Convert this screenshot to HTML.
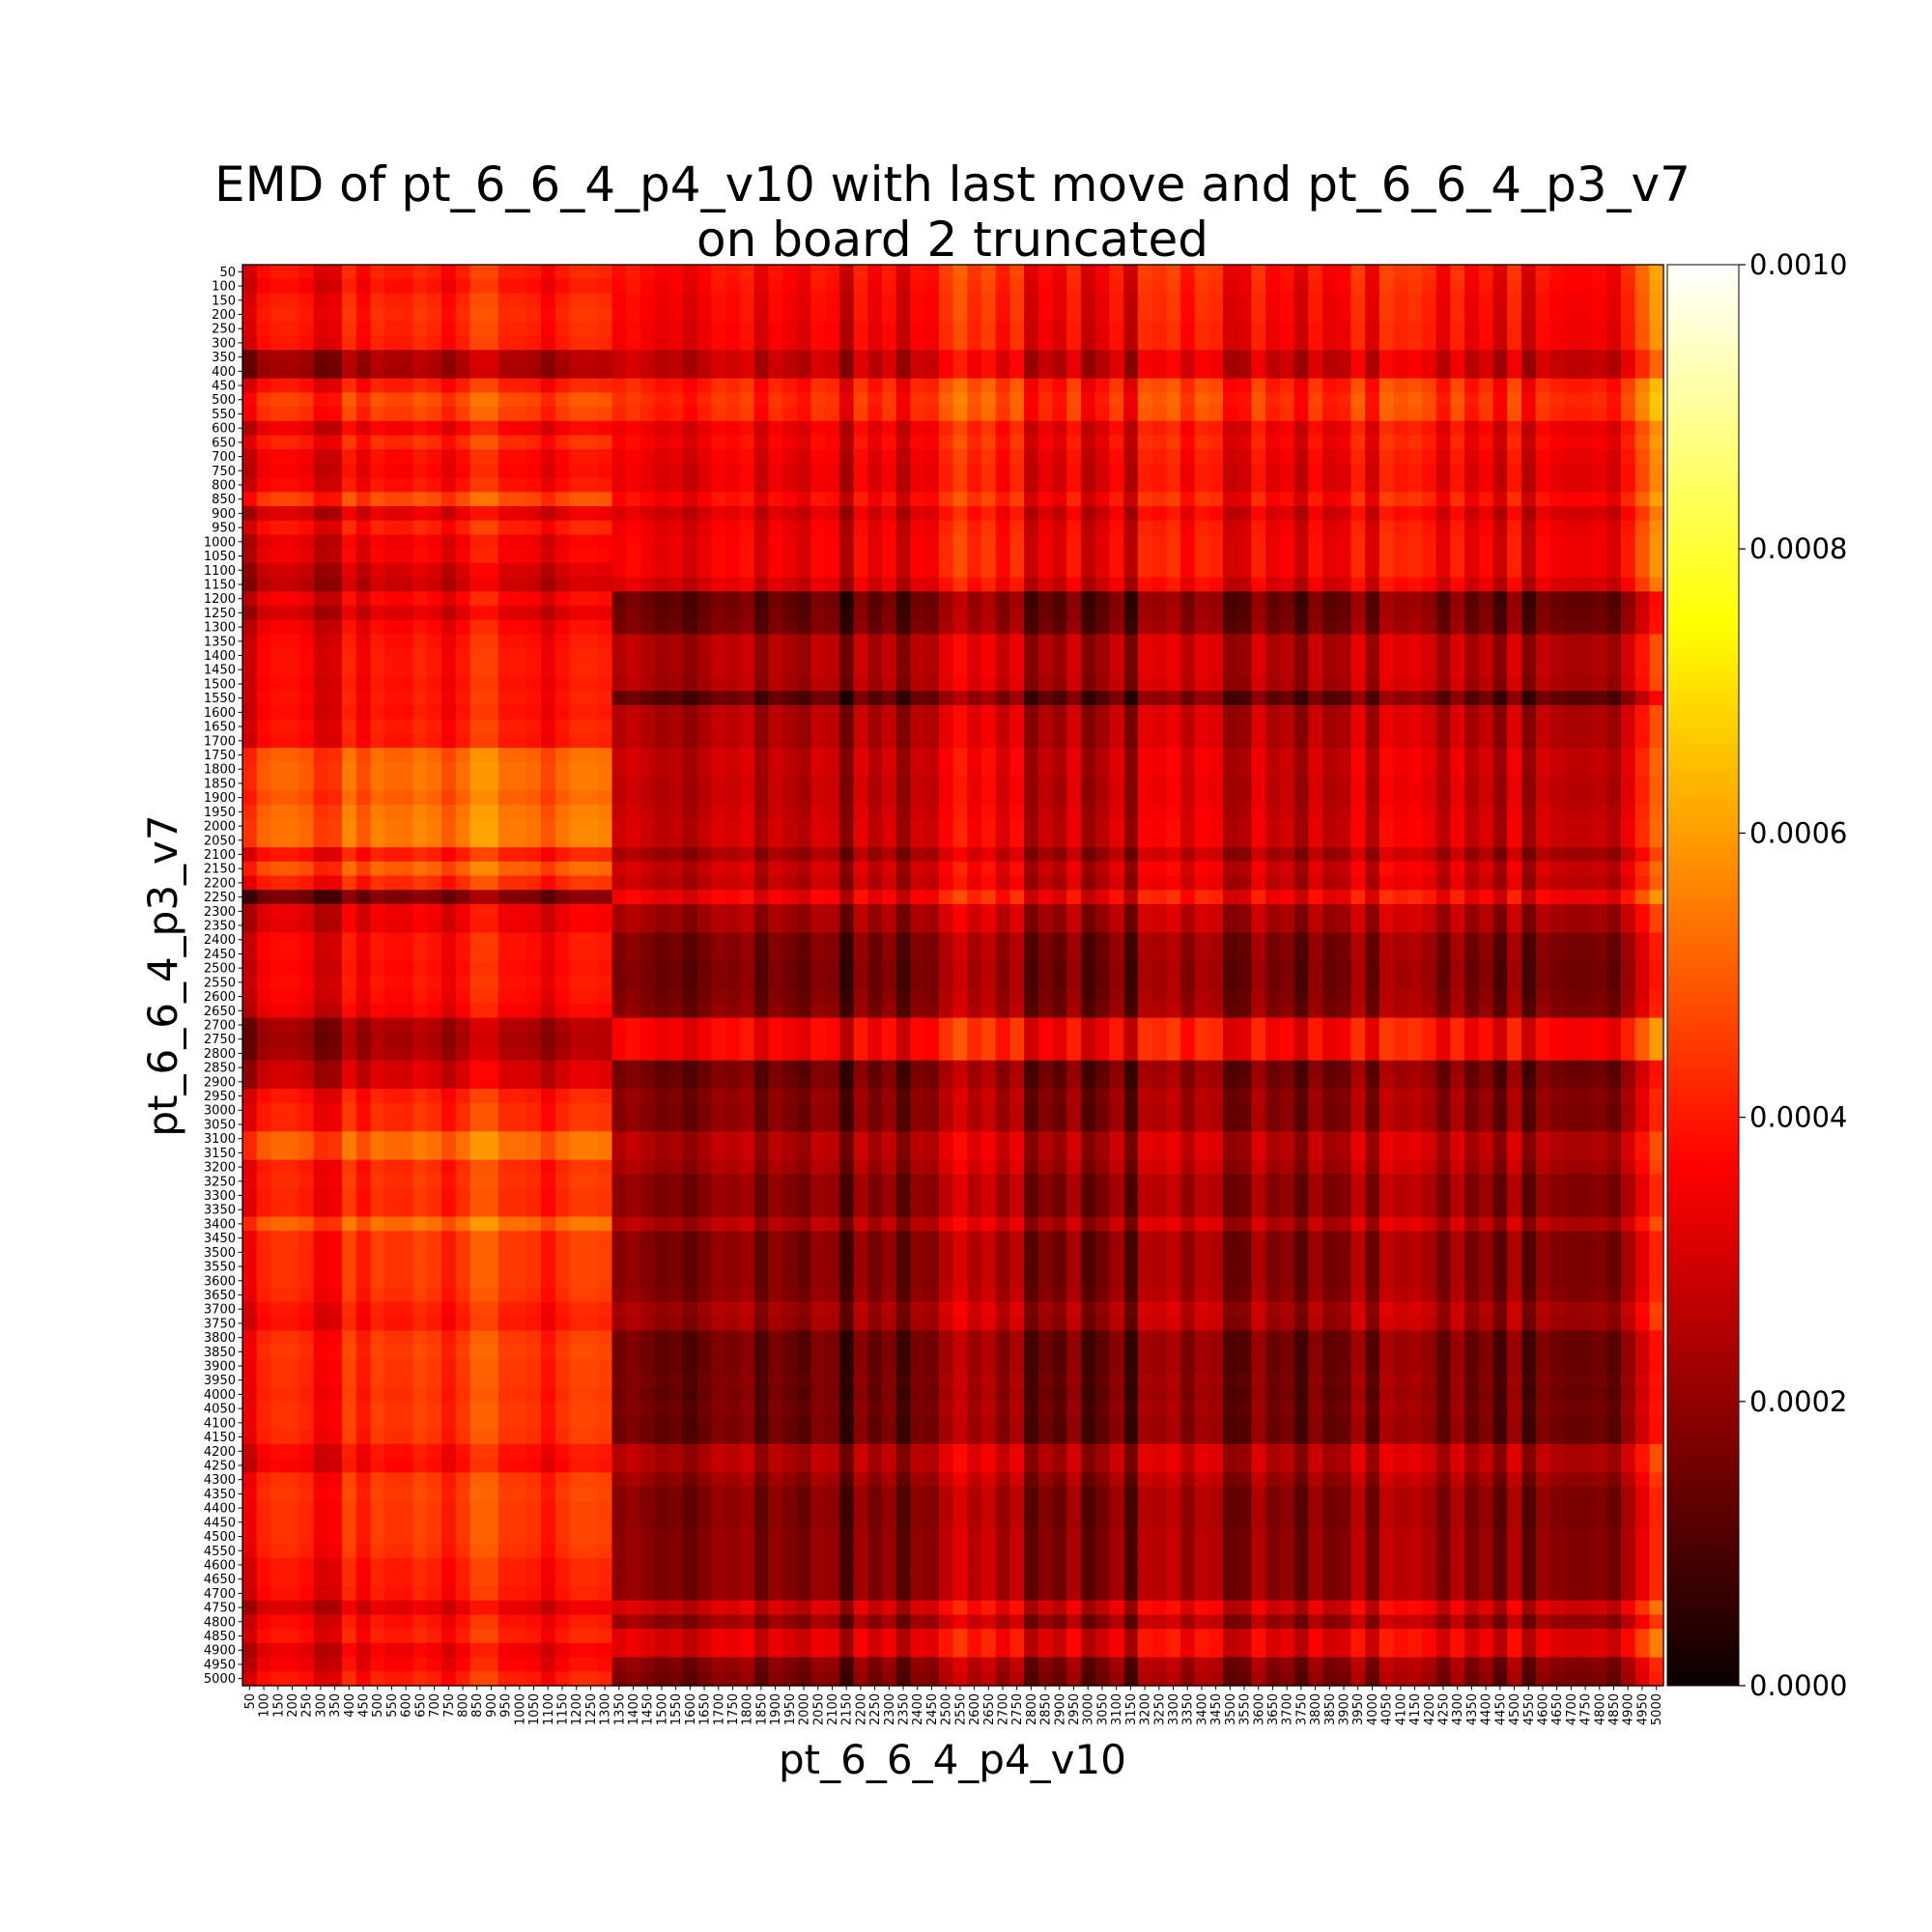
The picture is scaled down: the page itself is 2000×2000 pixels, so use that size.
<!DOCTYPE html>
<html><head><meta charset="utf-8">
<style>
html,body{margin:0;padding:0;background:#fff;}
svg{display:block;font-family:"DejaVu Sans","Liberation Sans",sans-serif;}
</style></head>
<body>
<svg id="chart" width="2000" height="2000" viewBox="0 0 2000 2000" xmlns="http://www.w3.org/2000/svg">
<rect x="0" y="0" width="2000" height="2000" fill="#fff"/>
<g>
<text x="986" y="208" font-size="50" text-anchor="middle">EMD of pt_6_6_4_p4_v10 with last move and pt_6_6_4_p3_v7</text>
<text x="986" y="265" font-size="50" text-anchor="middle">on board 2 truncated</text>
</g>
<g id="cells"></g>
<rect x="251" y="274" width="1471" height="1471" fill="none" stroke="#000" stroke-width="1.3"/>
<g id="yticks"></g>
<g id="xticks"></g>
<text x="986" y="1836" font-size="42" text-anchor="middle">pt_6_6_4_p4_v10</text>
<text transform="translate(183,1010) rotate(-90)" font-size="42" text-anchor="middle">pt_6_6_4_p3_v7</text>
<defs>
<linearGradient id="hotgrad" x1="0" y1="1" x2="0" y2="0">
<stop offset="0" stop-color="#0b0000"/>
<stop offset="0.365" stop-color="#ff0000"/>
<stop offset="0.746" stop-color="#ffff00"/>
<stop offset="1" stop-color="#ffffff"/>
</linearGradient>
</defs>
<rect x="1726" y="274" width="74" height="1471" fill="url(#hotgrad)" stroke="#000" stroke-width="1"/>
<g id="cbticks"></g>
</svg>
<script>
// Row values (x1e-4) for left column block (cols 50..1300) and right block (cols 1350..5000)
const rowLabels = [];
for (let v = 50; v <= 5000; v += 50) rowLabels.push(v);
const colLabels = rowLabels.slice();
const rowLeft = [3.8,3.6,3.9,4.0,3.9,3.8,2.2,2.1,3.8,4.5,4.3,3.3,4.0,3.5,3.4,3.6,4.5,3.0,3.8,3.2,
3.3,2.8,2.6,3.4,2.9,3.4,3.6,3.7,3.7,3.6,3.7,3.6,3.8,3.7,4.9,5.0,5.0,4.8,5.1,5.2,
5.2,3.8,4.8,4.0,1.5,3.2,3.1,3.6,3.6,3.5,3.6,3.5,3.3,2.2,2.1,2.2,2.8,2.8,3.8,4.0,
4.0,5.0,5.0,4.0,4.1,4.0,4.0,5.0,4.2,4.2,4.2,4.2,4.1,3.8,3.7,4.2,4.3,4.2,4.2,4.1,
4.2,4.2,4.1,3.6,3.5,4.2,4.3,4.2,4.2,4.2,4.1,3.8,3.8,3.7,3.0,3.6,3.8,3.2,3.4,3.8];
const rowRight = [3.8,3.7,3.6,3.6,3.5,3.5,2.8,2.8,4.1,4.3,4.2,3.4,3.6,3.4,3.3,3.3,3.7,3.1,3.4,3.5,
3.5,3.5,3.1,1.4,1.5,1.6,2.5,2.5,2.5,2.4,1.3,2.5,2.5,2.5,2.8,2.8,2.7,2.7,2.8,2.9,
2.9,2.3,2.9,2.7,3.5,2.3,2.3,1.7,1.7,1.6,1.6,1.7,1.8,3.6,3.6,3.6,1.5,1.6,1.9,1.8,
1.8,2.5,2.5,2.3,1.9,1.9,1.9,2.5,1.8,1.8,1.8,1.8,1.9,2.3,2.2,1.5,1.5,1.5,1.6,1.5,
1.6,1.5,1.5,2.5,2.5,2.1,1.8,1.8,1.8,1.9,1.9,1.9,1.9,1.9,3.0,2.1,3.2,3.2,1.9,1.7];
const colLeft = [-0.8,0,0.2,0.2,0,-0.7,-0.6,0.5,-0.2,0.4,0.2,0.2,0.5,0.3,-0.2,0.3,0.9,0.9,0.3,0.3,0.2,-0.3,0.2,0.5,0.5,0.4];
const colRight = [0,0.2,0,-0.2,-0.1,-0.4,-0.1,0.2,0.1,0.3,-0.4,0.1,-0.1,-0.3,0.2,0.1,-0.8,0.3,-0.2,0.2,
-0.6,0.1,0,0.6,1.0,0.5,0.8,0.2,0.7,-0.5,0,-0.3,0.4,-0.6,-0.2,0.3,-0.7,0.6,0.5,0.7,
0.1,0.6,0.5,-0.4,-0.3,0.5,-0.1,0.1,-0.5,0.3,-0.2,-0.1,0.6,-0.3,0.7,0.5,0.6,0.4,-0.2,0.5,
-0.2,0.2,-0.5,0.5,-0.6,0.2,0,-0.1,-0.1,0,-0.3,0.4,1.1,1.8];
const cbTickLabels = ["0.0000","0.0002","0.0004","0.0006","0.0008","0.0010"];
const cbTickValues = [0,2,4,6,8,10];

const NS = "http://www.w3.org/2000/svg";
const X0 = 251, Y0 = 274, W = 1471, H = 1471, VMAX = 10;
const nR = rowLabels.length, nC = colLabels.length;
const cw = W / nC, ch = H / nR;
function xPos(j){ return X0 + j * cw; }
function yPos(i){ return Y0 + i * ch; }
function cbY(v){ return Y0 + H - (v / VMAX) * H; }
function hot(v){
  let t = Math.max(0, Math.min(1, v / VMAX));
  const r = Math.min(1, t / 0.365), g = Math.max(0, Math.min(1, (t - 0.365) / 0.381)), b = Math.max(0, Math.min(1, (t - 0.746) / 0.254));
  const rr = Math.round(11 + 244 * r);
  return "rgb(" + rr + "," + Math.round(255 * g) + "," + Math.round(255 * b) + ")";
}
function cellValue(i, j){
  if (j < colLeft.length) return rowLeft[i] + colLeft[j];
  return rowRight[i] + 1.3 * colRight[j - colLeft.length];
}
const cells = document.getElementById("cells");
for (let i = 0; i < nR; i++) {
  for (let j = 0; j < nC; j++) {
    const r = document.createElementNS(NS, "rect");
    r.setAttribute("x", xPos(j).toFixed(2));
    r.setAttribute("y", yPos(i).toFixed(2));
    r.setAttribute("width", (cw + 0.6).toFixed(2));
    r.setAttribute("height", (ch + 0.6).toFixed(2));
    r.setAttribute("fill", hot(cellValue(i, j)));
    
    
    cells.appendChild(r);
  }
}
const yt = document.getElementById("yticks");
for (let i = 0; i < nR; i++) {
  const yc = yPos(i) + ch / 2;
  const l = document.createElementNS(NS, "line");
  l.setAttribute("x1", X0 - 4.5); l.setAttribute("x2", X0); l.setAttribute("y1", yc); l.setAttribute("y2", yc);
  l.setAttribute("stroke", "#000"); l.setAttribute("stroke-width", "1");
  
  
  yt.appendChild(l);
  const t = document.createElementNS(NS, "text");
  t.setAttribute("x", X0 - 7); t.setAttribute("y", yc + 4.5);
  t.setAttribute("font-size", "13"); t.setAttribute("text-anchor", "end");
  t.textContent = rowLabels[i];
  
  
  yt.appendChild(t);
}
const xt = document.getElementById("xticks");
for (let j = 0; j < nC; j++) {
  const xc = xPos(j) + cw / 2;
  const l = document.createElementNS(NS, "line");
  l.setAttribute("x1", xc); l.setAttribute("x2", xc); l.setAttribute("y1", Y0 + H); l.setAttribute("y2", Y0 + H + 4.5);
  l.setAttribute("stroke", "#000"); l.setAttribute("stroke-width", "1");
  
  
  xt.appendChild(l);
  const t = document.createElementNS(NS, "text");
  t.setAttribute("transform", "translate(" + (xc + 4.5) + "," + (Y0 + H + 8) + ") rotate(-90)");
  t.setAttribute("font-size", "13"); t.setAttribute("text-anchor", "end");
  t.textContent = colLabels[j];
  
  
  xt.appendChild(t);
}
const cb = document.getElementById("cbticks");
for (let k = 0; k < cbTickValues.length; k++) {
  const y = cbY(cbTickValues[k]);
  const l = document.createElementNS(NS, "line");
  l.setAttribute("x1", 1800); l.setAttribute("x2", 1807); l.setAttribute("y1", y); l.setAttribute("y2", y);
  l.setAttribute("stroke", "#000"); l.setAttribute("stroke-width", "1.2");
  
  
  cb.appendChild(l);
  const t = document.createElementNS(NS, "text");
  t.setAttribute("x", 1811); t.setAttribute("y", y + 10);
  t.setAttribute("font-size", "29");
  t.textContent = cbTickLabels[k];
  
  
  cb.appendChild(t);
}
</script>
</body></html>
